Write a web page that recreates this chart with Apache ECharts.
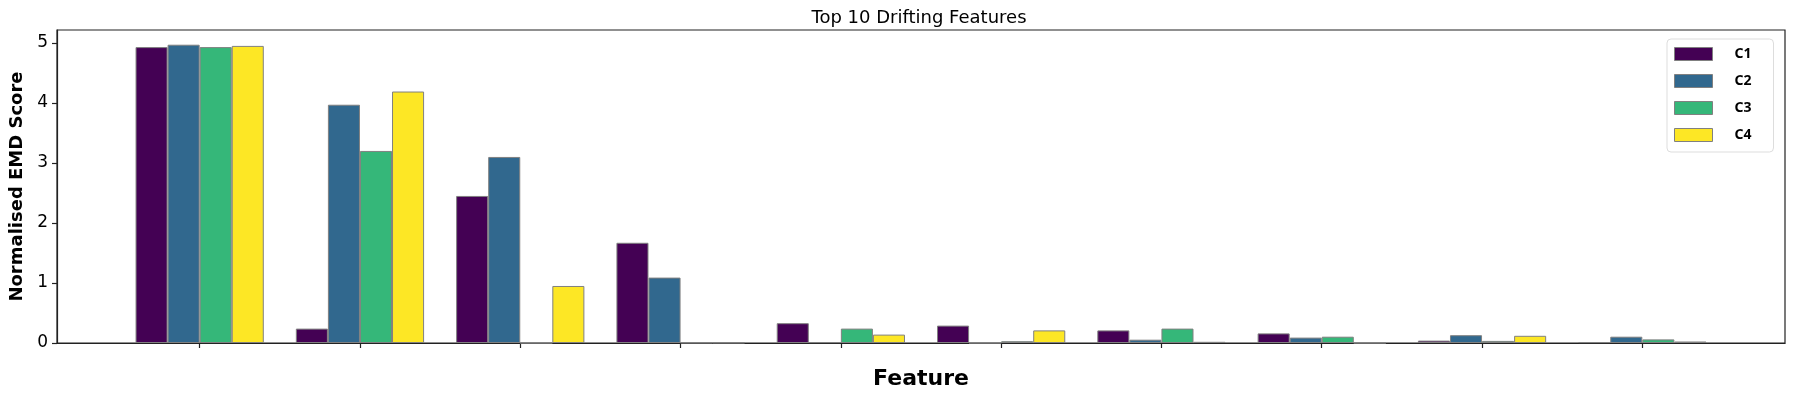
<!DOCTYPE html>
<html>
<head>
<meta charset="utf-8">
<script src="https://cdn.jsdelivr.net/npm/echarts@6/dist/echarts.min.js"></script>
<style>
html,body{margin:0;padding:0;background:#fff;}
#chart{width:1794px;height:400px;}
</style>
</head>
<body>
<div id="chart"></div>
<script>
// Feature positions (the ten drifting features, unlabeled in the original)
const featurePositions = [0, 1, 2, 3, 4, 5, 6, 7, 8, 9];
const seriesNames = ['C1', 'C2', 'C3', 'C4'];
const c1 = [4.93, 0.24, 2.45, 1.67, 0.33, 0.29, 0.21, 0.16, 0.04, 0.015];
const c2 = [4.97, 3.97, 3.10, 1.09, 0.015, 0.0, 0.055, 0.09, 0.13, 0.105];
const c3 = [4.93, 3.20, 0.0, 0.005, 0.24, 0.03, 0.24, 0.105, 0.035, 0.06];
const c4 = [4.95, 4.19, 0.95, 0.005, 0.14, 0.21, 0.02, 0.0, 0.12, 0.025];
const yTicks = [0, 1, 2, 3, 4, 5];
const colors = ['#440154', '#31688e', '#35b779', '#fde725'];

const allValues = [c1, c2, c3, c4];
const font = 'DejaVu Sans';

const chart = echarts.init(document.getElementById('chart'), null, {renderer: 'canvas'});
chart.setOption({
  animation: false,
  backgroundColor: '#ffffff',
  title: {
    text: 'Top 10 Drifting Features',
    left: 919, top: 9, textAlign: 'center', padding: 0,
    textStyle: {fontFamily: font, fontSize: 18, fontWeight: 'normal', color: '#000'}
  },
  legend: {
    orient: 'vertical',
    left: 1667, top: 39,
    padding: [8, 22, 10, 7],
    borderColor: '#dddddd', borderWidth: 1, borderRadius: 4,
    backgroundColor: '#ffffff',
    icon: 'rect',
    itemWidth: 38, itemHeight: 13, itemGap: 13,
    data: seriesNames,
    itemStyle: {borderColor: '#808080', borderWidth: 1},
    textStyle: {fontFamily: 'Noto Sans', fontWeight: 'bold', fontSize: 14, color: '#000', padding: [0, 0, 0, 17], lineHeight: 14}
  },
  grid: {
    left: 53, right: 9, top: 30, bottom: 57,
    show: true, borderColor: '#222', borderWidth: 1.2, containLabel: false
  },
  xAxis: {
    type: 'value',
    min: -0.89, max: 9.89,
    name: 'Feature', nameLocation: 'middle', nameGap: 25,
    nameTextStyle: {fontFamily: font, fontSize: 22, fontWeight: 'bold', color: '#000'},
    axisLine: {show: true, onZero: false, lineStyle: {color: '#222', width: 1.2}},
    axisTick: {show: true, length: 5, lineStyle: {color: '#222', width: 1.2}, customValues: featurePositions},
    axisLabel: {show: false},
    splitLine: {show: false}
  },
  yAxis: {
    type: 'value',
    min: 0, max: 5.215,
    name: 'Normalised EMD Score', nameLocation: 'middle', nameGap: 31, nameRotate: 90,
    nameTextStyle: {fontFamily: font, fontSize: 18, fontWeight: 'bold', color: '#000'},
    axisLine: {show: true, onZero: false, lineStyle: {color: '#222', width: 1.2}},
    axisTick: {show: true, length: 5, lineStyle: {color: '#222', width: 1.2}, customValues: yTicks},
    axisLabel: {fontFamily: font, fontSize: 17, color: '#000', margin: 9, customValues: yTicks},
    splitLine: {show: false}
  },
  series: seriesNames.map((name, s) => ({
    name: name,
    type: 'bar',
    barWidth: '20%',
    barGap: '0%',
    itemStyle: {color: colors[s], borderColor: '#808080', borderWidth: 1},
    data: featurePositions.map((x, i) => [x, allValues[s][i]])
  }))
});
</script>
</body>
</html>
